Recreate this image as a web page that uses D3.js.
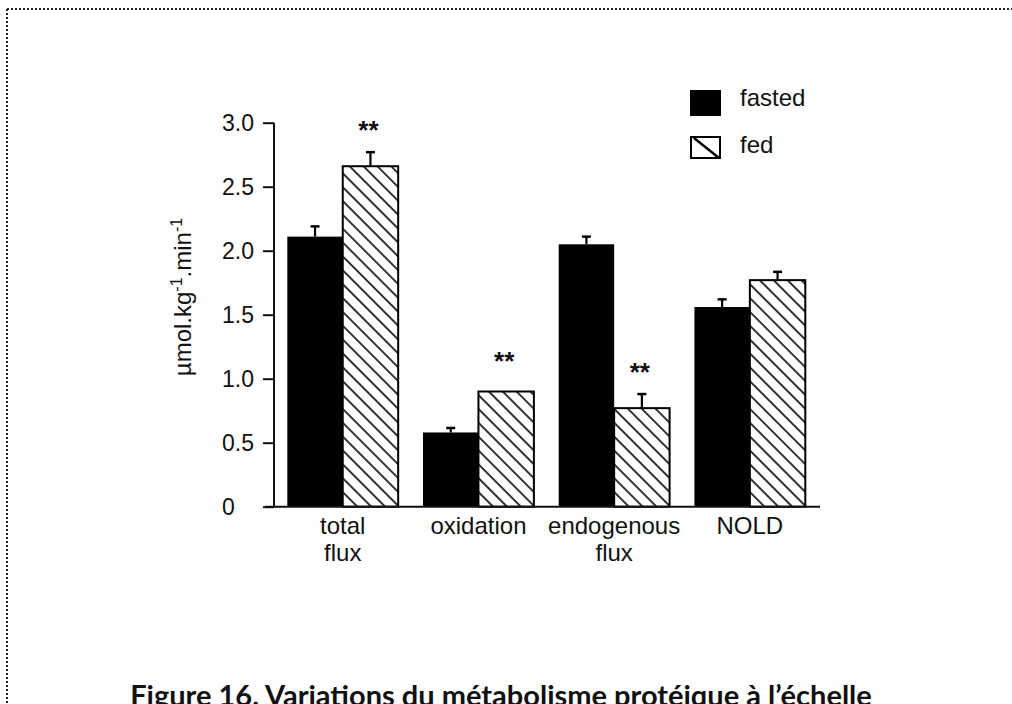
<!DOCTYPE html>
<html>
<head>
<meta charset="utf-8">
<script src="https://cdn.jsdelivr.net/npm/d3@7"></script>
<style>
  html, body { margin: 0; padding: 0; background: #fff; }
  svg { display: block; }
  text { font-family: "Liberation Sans", Arial, Helvetica, sans-serif; fill: #111; }
</style>
</head>
<body>
<svg id="chart" width="1012" height="704"></svg>
<script>
// ---- data ----
const categories = ["total flux", "oxidation", "endogenous flux", "NOLD"];
const categoryLines = [["total", "flux"], ["oxidation"], ["endogenous", "flux"], ["NOLD"]];
const seriesNames = ["fasted", "fed"];
const fastedValues = [2.11, 0.58, 2.05, 1.56];
const fastedErrors = [0.08, 0.035, 0.06, 0.06];
const fedValues = [2.66, 0.90, 0.77, 1.77];
const fedErrors = [0.11, 0.0, 0.11, 0.065];
const fedSignificance = ["**", "**", "**", ""];
const yTicks = [0, 0.5, 1.0, 1.5, 2.0, 2.5, 3.0];
const yLabelParts = ["µmol.kg", "-1", ".min", "-1"];
const caption = "Figure 16. Variations du métabolisme protéique à l’échelle";

// ---- drawing ----
const svg = d3.select("#chart");
const W = 1012, H = 704;

// dotted frame
svg.append("line").attr("x1", 7).attr("y1", 9).attr("x2", W).attr("y2", 9)
  .attr("stroke", "#222").attr("stroke-width", 2).attr("stroke-dasharray", "2,2");
svg.append("line").attr("x1", 7).attr("y1", 9).attr("x2", 7).attr("y2", H)
  .attr("stroke", "#222").attr("stroke-width", 2).attr("stroke-dasharray", "2,2");

// hatch pattern
const defs = svg.append("defs");
const pat = defs.append("pattern").attr("id", "hatch")
  .attr("patternUnits", "userSpaceOnUse").attr("width", 20).attr("height", 9.8)
  .attr("patternTransform", "rotate(45)");
pat.append("rect").attr("width", 20).attr("height", 9.8).attr("fill", "#fff");
pat.append("line").attr("x1", 0).attr("y1", 4.9).attr("x2", 20).attr("y2", 4.9)
  .attr("stroke", "#111").attr("stroke-width", 1.7);

const axisX = 274;
const y = d3.scaleLinear().domain([0, 3]).range([506.7, 122.7]);
const x0 = d3.scaleBand().domain(categories).range([287.3, 805.3]).paddingInner(0.183).paddingOuter(0);
const x1 = d3.scaleBand().domain(seriesNames).range([0, x0.bandwidth()]).padding(0);

const rows = categories.map((c, i) => ({
  cat: c,
  items: [
    { s: "fasted", v: fastedValues[i], e: fastedErrors[i], sig: "" },
    { s: "fed", v: fedValues[i], e: fedErrors[i], sig: fedSignificance[i] }
  ]
}));

const g = svg.append("g");
const groups = g.selectAll("g.grp").data(rows).join("g")
  .attr("transform", d => `translate(${x0(d.cat)},0)`);

groups.selectAll("rect.bar").data(d => d.items).join("rect")
  .attr("x", d => x1(d.s))
  .attr("y", d => y(d.v))
  .attr("width", x1.bandwidth())
  .attr("height", d => y(0) - y(d.v))
  .attr("fill", d => d.s === "fasted" ? "#000" : "url(#hatch)")
  .attr("stroke", "#000")
  .attr("stroke-width", d => d.s === "fasted" ? 0 : 2);

// error bars
const eb = groups.selectAll("g.err").data(d => d.items.filter(it => it.e > 0)).join("g");
eb.append("line")
  .attr("x1", d => x1(d.s) + x1.bandwidth() / 2)
  .attr("x2", d => x1(d.s) + x1.bandwidth() / 2)
  .attr("y1", d => y(d.v))
  .attr("y2", d => y(d.v + d.e))
  .attr("stroke", "#000").attr("stroke-width", 2.2);
eb.append("line")
  .attr("x1", d => x1(d.s) + x1.bandwidth() / 2 - 4.5)
  .attr("x2", d => x1(d.s) + x1.bandwidth() / 2 + 4.5)
  .attr("y1", d => y(d.v + d.e))
  .attr("y2", d => y(d.v + d.e))
  .attr("stroke", "#000").attr("stroke-width", 2.5);

// significance stars
groups.selectAll("text.sig").data(d => d.items.filter(it => it.sig)).join("text")
  .attr("x", d => x1(d.s) + x1.bandwidth() / 2 - 2)
  .attr("y", d => y(d.v + d.e) - (d.e > 0 ? 13 : 22))
  .attr("text-anchor", "middle")
  .attr("font-size", 26).attr("font-weight", "bold")
  .text(d => d.sig);

// y axis
const yAxis = d3.axisLeft(y).tickValues(yTicks).tickSize(11)
  .tickFormat(d => d === 0 ? "0" : d3.format(".1f")(d));
const ya = svg.append("g").attr("transform", `translate(${axisX},0)`).call(yAxis);
ya.select(".domain").remove();
ya.selectAll(".tick line").attr("stroke", "#111").attr("stroke-width", 2);
ya.selectAll(".tick text")
  .attr("x", -52).attr("dy", "0.36em")
  .attr("text-anchor", "start")
  .attr("font-size", 23)
  .attr("font-family", "Liberation Sans, Arial, sans-serif")
  .attr("fill", "#111");
svg.append("line").attr("x1", axisX).attr("x2", axisX)
  .attr("y1", y(3)).attr("y2", y(0)).attr("stroke", "#111").attr("stroke-width", 2);
// baseline
svg.append("line").attr("x1", 265).attr("x2", 820)
  .attr("y1", y(0)).attr("y2", y(0)).attr("stroke", "#111").attr("stroke-width", 2);

// x labels
const xl = svg.selectAll("text.xl").data(categories).join("text")
  .attr("class", "xl")
  .attr("text-anchor", "middle")
  .attr("font-size", 24)
  .attr("x", d => x0(d) + x0.bandwidth() / 2)
  .attr("y", 534);
xl.each(function(d, i) {
  const t = d3.select(this);
  categoryLines[i].forEach((ln, j) => {
    t.append("tspan").attr("x", x0(d) + x0.bandwidth() / 2).attr("dy", j === 0 ? 0 : 27).text(ln);
  });
});

// y label with superscripts
const yl = svg.append("text")
  .attr("transform", "translate(191,297) rotate(-90)")
  .attr("text-anchor", "middle")
  .attr("font-size", 24);
let shift = 0;
yLabelParts.forEach(p => {
  const sup = p === "-1";
  const dy = sup ? -9 - shift : -shift;
  shift = sup ? -9 : 0;
  yl.append("tspan")
    .attr("font-size", sup ? 16 : 24)
    .attr("dy", dy)
    .text(p);
});

// legend
const leg = svg.append("g");
const legY = [91, 137];
leg.selectAll("rect").data(seriesNames).join("rect")
  .attr("x", 691).attr("y", (d, i) => legY[i])
  .attr("width", 29).attr("height", (d, i) => i === 0 ? 24 : 21)
  .attr("fill", (d, i) => i === 0 ? "#000" : "#fff")
  .attr("stroke", "#000").attr("stroke-width", 2);
leg.append("line").attr("x1", 694).attr("y1", legY[1] + 1).attr("x2", 719).attr("y2", legY[1] + 21)
  .attr("stroke", "#000").attr("stroke-width", 2.5);
leg.selectAll("text").data(seriesNames).join("text")
  .attr("x", 740).attr("y", (d, i) => i === 0 ? 106 : 153)
  .attr("font-size", 24)
  .text(d => d);

// caption
svg.append("text")
  .attr("x", 501).attr("y", 706)
  .attr("text-anchor", "middle")
  .attr("font-size", 29).attr("font-weight", "bold")
  .style("font-family", "Lato, 'Open Sans', sans-serif")
  .text(caption);
</script>
</body>
</html>
